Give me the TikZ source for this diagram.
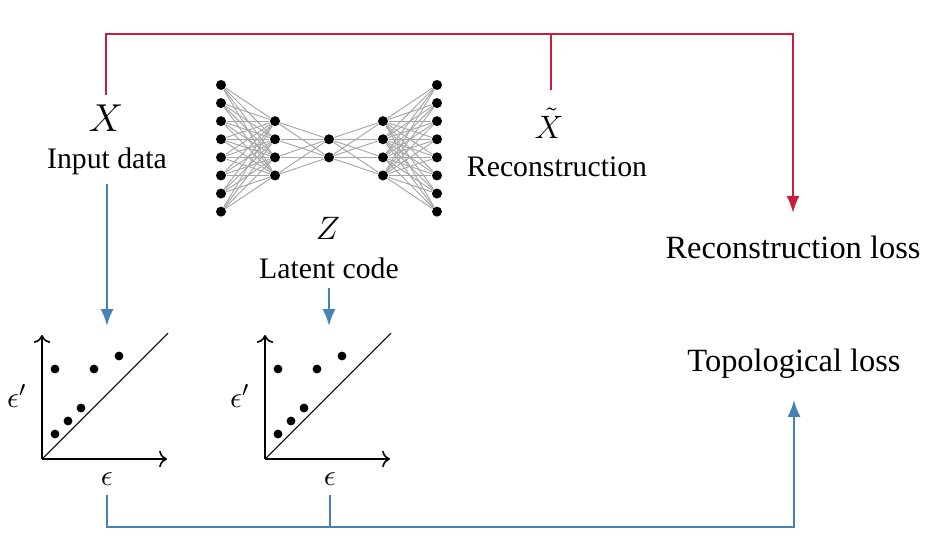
\documentclass[tikz,border=0pt]{standalone}
\usepackage{fontspec}
\setmainfont{Liberation Serif}
\usepackage{amsmath}
\usepackage{tikz}
\usetikzlibrary{arrows.meta,positioning}
\definecolor{reccol}{RGB}{200,30,60}
\definecolor{topocol}{RGB}{70,130,180}
\begin{document}
\begin{tikzpicture}[x=0.013cm,y=-0.013cm,
	neuron/.style={circle, fill=black, inner sep=0, minimum size=0.13cm},
	synapse/.style={gray!70, line width=0.35pt},
	recline/.style={reccol, thick},
	topoline/.style={topocol, thick},
	flow/.style={-{Latex[length=2.2mm,width=1.7mm]}},
	label/.style={anchor=base, font=\fontsize{11}{13}\selectfont},
	loss/.style={anchor=base, font=\fontsize{12}{14}\selectfont},
	dot/.style={circle, fill=black, inner sep=0, minimum size=0.115cm}]
		\useasboundingbox (0,0) rectangle (943,551);

		% autoencoder
		\foreach \l/\x/\n in {1/221/8, 2/275/4, 3/329/2, 4/383/4, 5/437/8} {
			\foreach \i in {1,...,\n} {
				\node[neuron] (n\l-\i) at (\x, {148.3 + (\i - (\n+1)/2)*18.1}) {};
			}
		}
		\foreach \a/\na/\b/\nb in {1/8/2/4, 2/4/3/2, 3/2/4/4, 4/4/5/8} {
			\foreach \i in {1,...,\na} {
				\foreach \j in {1,...,\nb} {
					\draw[synapse] (n\a-\i) -- (n\b-\j);
				}
			}
		}

		\node[anchor=base, font=\fontsize{14}{16}\selectfont] (X) at (106,131) {$X$};
		\node[label] (input) at (107,168) {Input data};
		\node[anchor=base, inner sep=1pt, font=\fontsize{11.5}{14}\selectfont] (Xt) at (549,138) {$\tilde{X}$};
		\node[label] (recon) at (557,176) {Reconstruction};
		\node[anchor=base, font=\fontsize{13}{15}\selectfont] (Z) at (328,239) {$Z$};
		\node[label] (latent) at (329,278) {Latent code};
		\node[loss] (recloss) at (793,258) {Reconstruction loss};
		\node[loss] (topoloss) at (794,371) {Topological loss};

		% persistence diagrams
		\foreach \o/\n in {42/1, 265/2} {
			\begin{scope}[shift={(\o,459)}]
				\coordinate (o\n) at (0,0);
				\draw[semithick,->] (o\n) -- (0,-124);
				\draw[semithick,->] (o\n) -- (125,0);
				\draw (o\n) -- (126,-126);
				\foreach \px/\py in {13/-90, 52/-90, 77/-103, 39/-51, 26/-38, 13/-25}
					\node[dot] at (\px,\py) {};
				\node[anchor=base, font=\fontsize{11}{13}\selectfont] (epsy\n) at (-25,-52) {$\epsilon'$};
				\node[anchor=base, font=\fontsize{11}{13}\selectfont] (eps\n) at (65,26) {$\epsilon$};
				\coordinate (top\n) at (65,-133);
			\end{scope}
		}

		% reconstruction path
		\coordinate (rtop) at (551,34);
		\draw[recline] (X.north) |- (rtop);
		\draw[recline, shorten <=1.9mm] (Xt.north -| rtop) -- (rtop);
		\draw[recline, flow, shorten >=1.7mm] (rtop) -| (recloss.north);

		% topological path
		\coordinate (bot) at (0,527);
		\draw[topoline, flow] (input.south) -- (top1);
		\draw[topoline, flow] (latent.south) -- (latent.south |- top2);
		\draw[topoline] (eps2.south) -- (eps2.south |- bot);
		\draw[topoline, flow, shorten >=1.6mm] (eps1.south) |- (topoloss.south |- bot) -- (topoloss.south);
	\end{tikzpicture}
\end{document}
